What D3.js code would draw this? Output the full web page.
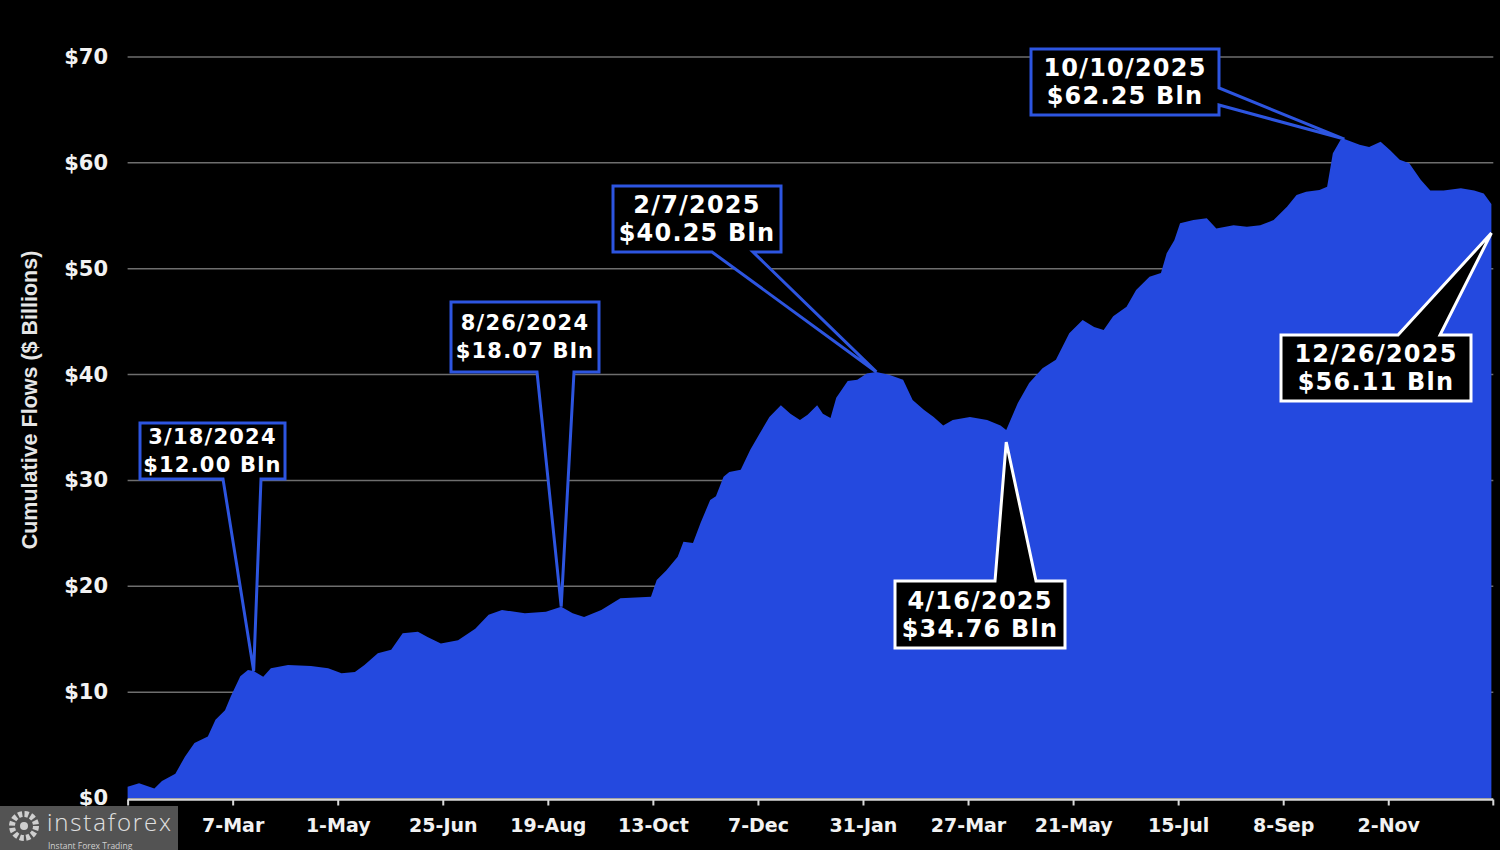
<!DOCTYPE html>
<html>
<head>
<meta charset="utf-8">
<script src="https://cdn.jsdelivr.net/npm/d3@7"></script>
<style>
  html, body { margin: 0; padding: 0; background: #000; }
  svg { display: block; }
</style>
</head>
<body>
<svg id="chart" width="1500" height="850"></svg>
<script>
// ---------- DATA ----------
const dates = [
  "2024-01-12","2024-01-18","2024-01-26","2024-01-30","2024-02-06","2024-02-11","2024-02-16","2024-02-23",
  "2024-02-27","2024-03-03","2024-03-06","2024-03-11","2024-03-15","2024-03-18","2024-03-23","2024-03-27",
  "2024-04-05","2024-04-17","2024-04-26","2024-05-03","2024-05-10","2024-05-15","2024-05-22","2024-05-29",
  "2024-06-04","2024-06-12","2024-06-17","2024-06-24","2024-07-03","2024-07-12","2024-07-19","2024-07-26",
  "2024-08-07","2024-08-18","2024-08-26","2024-09-01","2024-09-07","2024-09-16","2024-09-26","2024-10-12",
  "2024-10-15","2024-10-20","2024-10-26","2024-10-29","2024-11-03","2024-11-07","2024-11-12","2024-11-15",
  "2024-11-19","2024-11-22","2024-11-28","2024-12-03","2024-12-08","2024-12-13","2024-12-19","2024-12-24",
  "2024-12-29","2025-01-02","2025-01-07","2025-01-10","2025-01-14","2025-01-17","2025-01-23","2025-01-28",
  "2025-02-02","2025-02-07","2025-02-14","2025-02-21","2025-02-26","2025-03-04","2025-03-09","2025-03-14",
  "2025-03-19","2025-03-28","2025-04-06","2025-04-13","2025-04-16","2025-04-22","2025-04-28","2025-05-05",
  "2025-05-12","2025-05-19","2025-05-26","2025-06-01","2025-06-06","2025-06-11","2025-06-18","2025-06-23",
  "2025-06-30","2025-07-06","2025-07-09","2025-07-13","2025-07-16","2025-07-23","2025-07-30","2025-08-04",
  "2025-08-13","2025-08-20","2025-08-27","2025-09-03","2025-09-10","2025-09-15","2025-09-20","2025-09-27",
  "2025-10-01","2025-10-04","2025-10-08","2025-10-10","2025-10-18","2025-10-23","2025-10-29","2025-11-03",
  "2025-11-08","2025-11-13","2025-11-19","2025-11-24","2025-12-01","2025-12-10","2025-12-17","2025-12-22",
  "2025-12-26"
];
const values = [
  1.07,1.39,0.90,1.60,2.30,3.90,5.20,5.80,
  7.40,8.30,9.60,11.50,12.10,12.00,11.46,12.25,
  12.56,12.47,12.25,11.78,11.90,12.56,13.67,14.00,
  15.56,15.70,15.20,14.60,14.90,16.00,17.30,17.76,
  17.45,17.60,18.07,17.45,17.10,17.76,18.86,19.00,
  20.60,21.50,22.80,24.20,24.10,26.00,28.15,28.50,
  30.35,30.80,31.00,32.90,34.45,36.00,37.10,36.30,
  35.70,36.20,37.10,36.30,35.90,37.80,39.40,39.50,
  40.10,40.25,39.96,39.50,37.60,36.65,36.00,35.20,
  35.70,36.00,35.70,35.20,34.76,37.30,39.20,40.60,
  41.40,43.90,45.15,44.50,44.20,45.50,46.40,48.00,
  49.25,49.60,51.45,52.70,54.30,54.60,54.76,53.80,
  54.10,53.97,54.10,54.60,55.86,56.96,57.27,57.43,
  57.75,60.90,62.16,62.25,61.70,61.50,62.00,61.20,
  60.30,59.97,58.40,57.40,57.40,57.60,57.40,57.10,
  56.11
];
const yTicks = [0, 10, 20, 30, 40, 50, 60, 70];
const yTickLabels = ["$0","$10","$20","$30","$40","$50","$60","$70"];
// first tick (12-Jan) sits under the watermark, so its label is not shown
const xTickDates = ["2024-01-12","2024-03-07","2024-05-01","2024-06-25","2024-08-19","2024-10-13",
  "2024-12-07","2025-01-31","2025-03-27","2025-05-21","2025-07-15","2025-09-08","2025-11-02"];
const xTickLabels = ["","7-Mar","1-May","25-Jun","19-Aug","13-Oct","7-Dec","31-Jan",
  "27-Mar","21-May","15-Jul","8-Sep","2-Nov"];
const annDates  = ["2024-03-18","2024-08-26","2025-02-07","2025-04-16","2025-10-10","2025-12-26"];
const annValues = [12.00, 18.07, 40.25, 34.76, 62.25, 56.11];
const annLine1  = ["3/18/2024","8/26/2024","2/7/2025","4/16/2025","10/10/2025","12/26/2025"];
const annLine2  = ["$12.00 Bln","$18.07 Bln","$40.25 Bln","$34.76 Bln","$62.25 Bln","$56.11 Bln"];
const yTitle = "Cumulative Flows ($ Billions)";

// ---------- LAYOUT / STYLE ----------
const annLayout = [
  {x0:140, y0:423, x1:285, y1:479, side:"bottom", p1:223, p2:261, fs:21, col:"#2d55e0", dy:0},
  {x0:451, y0:302, x1:599, y1:372, side:"bottom", p1:537, p2:574, fs:21, col:"#2d55e0", dy:0},
  {x0:613, y0:186, x1:781, y1:252, side:"bottom", p1:712, p2:753, fs:24, col:"#2d55e0", dy:0},
  {x0:895, y0:581, x1:1065, y1:648, side:"top", p1:995, p2:1036, fs:24, col:"#ffffff", dy:12},
  {x0:1031, y0:49, x1:1219, y1:115, side:"right", p1:88, p2:105, fs:24, col:"#2d55e0", dy:0},
  {x0:1281, y0:335, x1:1471, y1:401, side:"top", p1:1398, p2:1440, fs:24, col:"#ffffff", dy:29}
];
const AREA = "#2449df";
const FONT = "'DejaVu Sans', Verdana, sans-serif";

const parse = d3.utcParse("%Y-%m-%d");
const data = dates.map((d, i) => ({date: parse(d), value: values[i]}));

const svg = d3.select("#chart");
svg.append("rect").attr("width", 1500).attr("height", 850).attr("fill", "#000");

const x = d3.scaleUtc()
  .domain([parse("2024-01-11"), parse("2025-12-27")])
  .range([125.7, 1493.3]);
const y = d3.scaleLinear().domain([0, 70]).range([798, 57]);

const xL = x(parse("2024-01-12")), xR = 1493.3;

// gridlines
svg.append("g").selectAll("line")
  .data(yTicks.filter(t => t > 0))
  .join("line")
  .attr("x1", xL).attr("x2", xR)
  .attr("y1", d => y(d)).attr("y2", d => y(d))
  .attr("stroke", "#6e6e6e").attr("stroke-width", 1.5);

// area
const area = d3.area()
  .x(d => x(d.date))
  .y0(y(0))
  .y1(d => y(d.value))
  .curve(d3.curveLinear);
svg.append("path").datum(data).attr("d", area).attr("fill", AREA);

// y tick labels
svg.append("g").selectAll("text")
  .data(yTicks)
  .join("text")
  .attr("x", 108).attr("y", d => y(d))
  .attr("text-anchor", "end").attr("dominant-baseline", "central")
  .attr("font-family", FONT).attr("font-weight", "bold").attr("font-size", 21)
  .attr("fill", "#f2f2f2")
  .text((d, i) => yTickLabels[i]);

// y title
svg.append("text")
  .attr("transform", "translate(30,400) rotate(-90)")
  .attr("text-anchor", "middle").attr("dominant-baseline", "central")
  .attr("font-family", "'Liberation Sans', Arial, sans-serif").attr("font-weight", "bold")
  .attr("font-size", 21.5).attr("fill", "#e6e6e6")
  .text(yTitle);

// x axis
const xAxis = d3.axisBottom(x)
  .tickValues(xTickDates.map(parse))
  .tickFormat((d, i) => xTickLabels[i])
  .tickSize(6).tickSizeOuter(0);
const gx = svg.append("g").attr("transform", "translate(0,799.5)").call(xAxis);
gx.select(".domain").remove();
gx.append("line").attr("x1", xL).attr("x2", xR).attr("y1", 0).attr("y2", 0)
  .attr("stroke", "#d8d8d8").attr("stroke-width", 2.5);
gx.append("line").attr("x1", xR).attr("x2", xR).attr("y1", 0).attr("y2", 6)
  .attr("stroke", "#d8d8d8").attr("stroke-width", 2);
gx.selectAll(".tick line").attr("stroke", "#d8d8d8").attr("stroke-width", 2);
gx.selectAll(".tick text")
  .attr("y", 25).attr("dy", 0).attr("dominant-baseline", "central")
  .attr("font-family", FONT).attr("font-weight", "bold").attr("font-size", 19)
  .attr("fill", "#f2f2f2");

// annotations
annDates.forEach((ds, i) => {
  const L = annLayout[i];
  const tx = x(parse(ds)), ty = y(annValues[i]) + L.dy;
  let p;
  if (L.side === "bottom") {
    p = `M${L.x0},${L.y0}H${L.x1}V${L.y1}H${L.p2}L${tx},${ty}L${L.p1},${L.y1}H${L.x0}Z`;
  } else if (L.side === "top") {
    p = `M${L.x0},${L.y0}H${L.p1}L${tx},${ty}L${L.p2},${L.y0}H${L.x1}V${L.y1}H${L.x0}Z`;
  } else {
    p = `M${L.x0},${L.y0}H${L.x1}V${L.p1}L${tx},${ty}L${L.x1},${L.p2}V${L.y1}H${L.x0}Z`;
  }
  const g = svg.append("g");
  g.append("path").attr("d", p).attr("fill", "#000")
    .attr("stroke", L.col).attr("stroke-width", 3).attr("stroke-linejoin", "miter");
  const cx = (L.x0 + L.x1) / 2, cy = (L.y0 + L.y1) / 2;
  [annLine1[i], annLine2[i]].forEach((t, k) => {
    g.append("text")
      .attr("x", cx).attr("y", cy + (k === 0 ? -14 : 14))
      .attr("text-anchor", "middle").attr("dominant-baseline", "central")
      .attr("font-family", FONT).attr("font-weight", "bold").attr("font-size", L.fs)
      .attr("letter-spacing", 1.2)
      .attr("fill", "#ffffff").text(t);
  });
});

// watermark
const wm = svg.append("g");
wm.append("rect").attr("x", 0).attr("y", 806).attr("width", 178).attr("height", 44)
  .attr("fill", "#5a5a5a").attr("opacity", 0.92);
wm.append("circle").attr("cx", 24).attr("cy", 826).attr("r", 12)
  .attr("fill", "none").attr("stroke", "#cfcfcf").attr("stroke-width", 6).attr("stroke-dasharray", "4 2.3");
wm.append("circle").attr("cx", 24).attr("cy", 826).attr("r", 4).attr("fill", "#cfcfcf");
wm.append("text").attr("x", 47).attr("y", 831)
  .attr("font-family", "'Open Sans', 'Noto Sans', sans-serif").attr("font-weight", 300)
  .attr("font-size", 24).attr("textLength", 124).attr("lengthAdjust", "spacing")
  .attr("fill", "#e0e0e0").text("instaforex");
wm.append("text").attr("x", 48).attr("y", 848.5)
  .attr("font-family", "'Open Sans', 'Noto Sans', sans-serif")
  .attr("font-size", 8.5).attr("fill", "#d0d0d0").text("Instant Forex Trading");
</script>
</body>
</html>
